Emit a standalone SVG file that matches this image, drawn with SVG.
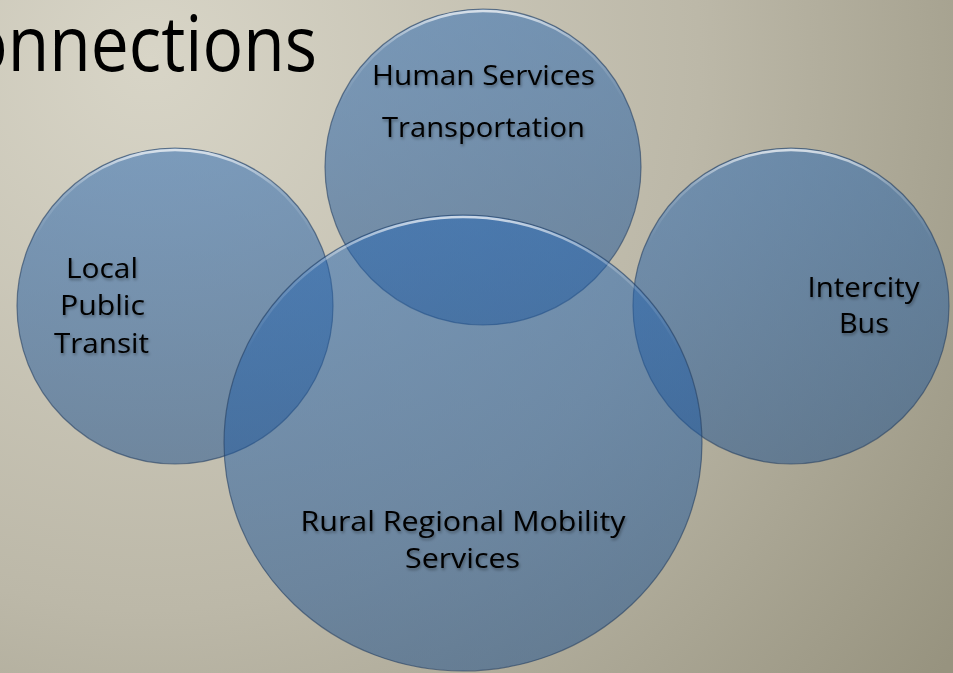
<svg xmlns="http://www.w3.org/2000/svg" width="953" height="673" viewBox="0 0 953 673">
  <defs>
    <radialGradient id="bg" cx="150" cy="60" r="1000" gradientUnits="userSpaceOnUse">
      <stop offset="0" stop-color="#d8d5c7"/>
      <stop offset="0.55" stop-color="#bcb8a8"/>
      <stop offset="1" stop-color="#97937f"/>
    </radialGradient>
    <linearGradient id="disc" x1="0" y1="0" x2="0" y2="1">
      <stop offset="0" stop-color="#2466b4"/>
      <stop offset="1" stop-color="#1b4e8c"/>
    </linearGradient>
    <linearGradient id="rim" x1="0" y1="0" x2="0" y2="1">
      <stop offset="0" stop-color="#ffffff" stop-opacity="0.7"/>
      <stop offset="0.12" stop-color="#ffffff" stop-opacity="0.2"/>
      <stop offset="0.3" stop-color="#ffffff" stop-opacity="0"/>
    </linearGradient>
    <filter id="shadow" x="-10%" y="-30%" width="120%" height="160%">
      <feDropShadow dx="1" dy="2" stdDeviation="1.5" flood-color="#000" flood-opacity="0.35"/>
    </filter>
  </defs>
  <style>
    .disc { fill: url(#disc); fill-opacity: 0.5; stroke: #243f63; stroke-opacity: 0.6; stroke-width: 1.2; }
    .rim { fill: none; stroke: url(#rim); stroke-width: 2.5; }
    .label { font-family: "Open Sans", "Noto Sans", "Liberation Sans", sans-serif; font-size: 28px; fill: #000; text-anchor: middle; filter: url(#shadow); }
    .title { font-family: "Open Sans", "Noto Sans", "Liberation Sans", sans-serif; font-size: 77px; fill: #000; }
  </style>

  <rect width="953" height="673" fill="url(#bg)"/>

  <!-- slide title, running off the left edge -->
  <text class="title" x="-33" y="71" textLength="350" lengthAdjust="spacingAndGlyphs">onnections</text>

  <g id="human-services">
    <circle class="disc" cx="483" cy="167" r="158"/>
    <circle class="rim" cx="483" cy="167" r="156"/>
    <text class="label" x="483.5" y="85" textLength="223" lengthAdjust="spacingAndGlyphs">Human Services</text>
    <text class="label" x="483.5" y="137" textLength="203" lengthAdjust="spacingAndGlyphs">Transportation</text>
  </g>

  <g id="local-public-transit">
    <circle class="disc" cx="175" cy="306" r="158"/>
    <circle class="rim" cx="175" cy="306" r="156"/>
    <text class="label" x="102" y="278" textLength="72" lengthAdjust="spacingAndGlyphs">Local</text>
    <text class="label" x="102.5" y="315" textLength="85" lengthAdjust="spacingAndGlyphs">Public</text>
    <text class="label" x="101.5" y="353" textLength="95" lengthAdjust="spacingAndGlyphs">Transit</text>
  </g>

  <g id="intercity-bus">
    <circle class="disc" cx="791" cy="306" r="158"/>
    <circle class="rim" cx="791" cy="306" r="156"/>
    <text class="label" x="863.5" y="297" textLength="112" lengthAdjust="spacingAndGlyphs">Intercity</text>
    <text class="label" x="864" y="333" textLength="50" lengthAdjust="spacingAndGlyphs">Bus</text>
  </g>

  <g id="rural-regional-mobility">
    <ellipse class="disc" cx="463" cy="443" rx="239" ry="228"/>
    <ellipse class="rim" cx="463" cy="443" rx="237" ry="226"/>
    <text class="label" x="463" y="531" textLength="325" lengthAdjust="spacingAndGlyphs">Rural Regional Mobility</text>
    <text class="label" x="462.5" y="568" textLength="115" lengthAdjust="spacingAndGlyphs">Services</text>
  </g>

  <g id="connectors"/>
</svg>
